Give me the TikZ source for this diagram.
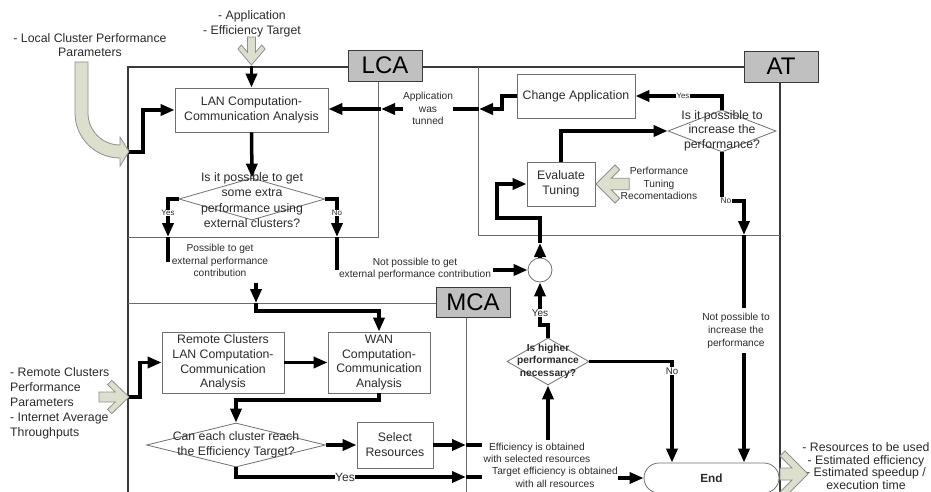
\documentclass[tikz,border=0pt]{standalone}
\usepackage{fontspec}
\setmainfont{Liberation Sans}
\usetikzlibrary{arrows.meta,shapes.geometric}
\definecolor{txt}{HTML}{2B2B2B}
\definecolor{blk}{HTML}{DCDFCB}
\definecolor{blkline}{HTML}{8F8F8F}
\definecolor{lanebox}{HTML}{C0C0C0}
\definecolor{framec}{HTML}{3A3A3A}
\definecolor{lanec}{HTML}{6A6A6A}
\definecolor{boxc}{HTML}{707070}
\tikzset{
  frameline/.style={draw=framec, line width=1.5pt},
  laneline/.style={draw=lanec, line width=1pt},
  lanelabel/.style={draw=framec, fill=lanebox, line width=0.9pt, minimum width=74pt, minimum height=31pt, inner sep=0pt, text=black, font=\fontsize{24}{24}\selectfont},
  proc/.style={draw=boxc, fill=white, line width=0.8pt, align=center, inner sep=0pt, font=\fontsize{12.3}{15}\selectfont},
  decis/.style={diamond, draw=boxc, line width=0.8pt, inner sep=0pt},
  dectext/.style={align=center, inner sep=0pt, font=\fontsize{12.3}{15}\selectfont},
  conn/.style={line width=3.5pt, draw=black, -{Triangle[length=14pt,width=11pt]}},
  connplain/.style={line width=3.5pt, draw=black},
  yn/.style={fill=white, inner sep=0.6pt, font=\fontsize{8}{9}\selectfont},
  lbl/.style={align=center, inner sep=0pt, font=\fontsize{10.2}{12.5}\selectfont},
  blockarrow/.style={fill=blk, draw=blkline, line width=0.8pt},
  chev/.pic={\path[blockarrow] (0,0) -- (-20,-20) -- (-25,-15) -- (-16,-6) -- (-35,-6) -- (-35,6) -- (-16,6) -- (-25,15) -- (-20,20) -- cycle;}
}
\begin{document}
\begin{tikzpicture}[x=1pt,y=-1pt,text=txt]
\useasboundingbox (0,0) rectangle (931,492);
\fill[white] (0,0) rectangle (931,492);

% frame and lanes
\draw[frameline] (128,495) -- (128,67) -- (744,67);
\draw[frameline] (780,82) -- (780,495);
\draw[laneline] (378,81) -- (378,237) -- (128,237);
\draw[laneline] (478,67) -- (478,235) -- (780,235);
\draw[laneline] (128,303) -- (436,303);
\draw[laneline] (466,317) -- (466,495);

\node[lanelabel] (lca) at (385,65.5) {LCA};
\node[lanelabel] (at) at (781,66.5) {AT};
\node[lanelabel, minimum height=30pt] (mca) at (473,302) {MCA};

% process boxes
\node[proc, minimum width=153pt, minimum height=44pt] (lan) at (251.5,110) {LAN Computation-\\Communication Analysis};
\node[proc, minimum width=118pt, minimum height=44pt] (chg) at (576,96) {Change Application};
\node[proc, minimum width=68pt, minimum height=44pt] (eval) at (561,184) {Evaluate\\Tuning};
\node[proc, minimum width=122pt, minimum height=61pt, font=\fontsize{12.3}{14.7}\selectfont] (remote) at (223,362.5) {Remote Clusters\\LAN Computation-\\Communication\\Analysis};
\node[proc, minimum width=102pt, minimum height=61pt, font=\fontsize{12.3}{14.7}\selectfont] (wan) at (379,362.5) {WAN\\Computation-\\Communication\\Analysis};
\node[proc, minimum width=76pt, minimum height=46pt] (sel) at (395,445) {Select\\Resources};
\node[draw=boxc, fill=white, line width=0.8pt, rounded corners=15pt, minimum width=135pt, minimum height=30pt, inner sep=0pt, font=\bfseries\fontsize{11.8}{14}\selectfont] (endn) at (711.5,478) {End};
\node[circle, draw=boxc, fill=white, line width=0.8pt, minimum size=24pt, inner sep=0pt] (cj) at (540,270) {};

% decisions
\node[decis, minimum width=146pt, minimum height=42pt] (d1) at (252,199) {};
\node[dectext, font=\fontsize{12.3}{15.3}\selectfont] (d1t) at (252,200) {Is it possible to get\\some extra\\performance using\\external clusters?};
\node[decis, minimum width=108pt, minimum height=42pt] (dat) at (722,131) {};
\node[dectext, font=\fontsize{12.3}{14.5}\selectfont] (datt) at (722,130.5) {Is it possible to\\increase the\\performance?};
\node[decis, minimum width=82pt, minimum height=47pt] (dhi) at (548,361.5) {};
\node[dectext, font=\bfseries\fontsize{10.2}{12.5}\selectfont] (dhit) at (548,361) {Is higher\\performance\\necessary?};
\node[decis, minimum width=179pt, minimum height=44pt] (dmca) at (236,445) {};
\node[dectext] (dmcat) at (236,444.5) {Can each cluster reach\\the Efficiency Target?};

% external texts
\node[align=center, inner sep=0pt, font=\fontsize{12.3}{15}\selectfont] (apptxt) at (252,23.5) {- Application\\- Efficiency Target};
\node[align=center, inner sep=0pt, font=\fontsize{12.3}{14.5}\selectfont] (loctxt) at (90,45) {- Local Cluster Performance\\Parameters};
\node[lbl] (ptxt) at (220,260.5) {Possible to get\\external performance\\contribution};
\node[lbl, font=\fontsize{10.2}{12}\selectfont] (nptxt) at (415,269) {Not possible to get\\external performance contribution};
\node[lbl] (atxt) at (428,108.5) {Application\\was\\tunned};
\node[lbl, font=\fontsize{10.2}{13}\selectfont] (nitxt) at (736,331) {Not possible to\\increase the\\performance};
\node[lbl] (prtxt) at (659,183.5) {Performance\\Tuning\\Recomentadions};
\node[lbl, font=\fontsize{10.2}{12}\selectfont] (etxt) at (537,453) {Efficiency is obtained\\with selected resources};
\node[lbl, font=\fontsize{10.2}{13}\selectfont] (ttxt) at (555,477.5) {Target efficiency is obtained\\with all resources};
\node[align=center, inner sep=0pt, font=\fontsize{12.3}{12.6}\selectfont] (outtxt) at (866,466) {- Resources to be used\\- Estimated efficiency\\- Estimated speedup /\\execution time};

% coordinates for split connectors
\coordinate (topin) at (251.5,66);
\coordinate (lin) at (128,152);
\coordinate (y1) at (168,237);
\coordinate (p1) at (256,283);
\coordinate (p2) at (256,303);
\coordinate (n1) at (337,237);
\coordinate (np1) at (493,270);
\coordinate (c1) at (540,243);
\coordinate (a1) at (479,109);
\coordinate (a2) at (403,109);
\coordinate (a3) at (381,109);
\coordinate (b1) at (744,235);
\coordinate (b2) at (744,353);
\coordinate (rin) at (128,397);
\coordinate (s1) at (466,445);
\coordinate (e1) at (548,440);
\coordinate (t1) at (466,477);
\coordinate (t2) at (618,478);
\coordinate (h1) at (672,361.5);

% connectors
\draw[conn] (topin) -- (lan.north);
\draw[conn] (lin) -- (143,152) |- (lan.west);
\draw[conn] (lan.south) -- (d1.north);
\draw[conn] (d1.west) -| (y1);
\draw[connplain] (y1) -- (168,262);
\draw[conn] (p1) -- (p2);
\draw[conn] (p2) -- (256,311) -| (wan.north);
\draw[conn] (d1.east) -| (n1);
\draw[connplain] (n1) -- (337,270);
\draw[conn] (np1) -- (cj.west);
\draw[conn] (cj.north) -- (c1);
\draw[conn] (c1) -- (540,218) -- (497,218) |- (eval.west);
\draw[conn] (eval.north) |- (dat.west);
\draw[conn] (dat.north) |- (chg.east);
\draw[conn] (chg.west) -- (502,96) |- (a1);
\draw[connplain] (a1) -- (453,109);
\draw[conn] (a2) -- (a3);
\draw[conn] (a3) -- (a3 -| lan.east);
\draw[conn] (dat.south) -- (722,201) -| (b1);
\draw[connplain] (b1) -- (744,308);
\draw[conn] (b2) -- (b2 |- endn.north);
\draw[conn] (rin) -- (140,397) |- (remote.west);
\draw[conn] (remote.east) -- (wan.west);
\draw[conn] (wan.south) -- (379,400) -| (dmca.north);
\draw[conn] (dmca.east) -- (sel.west);
\draw[conn] (sel.east) -- (s1);
\draw[connplain] (s1) -- (482,445);
\draw[conn] (e1) -- (dhi.south);
\draw[conn] (dmca.south) |- (t1);
\draw[connplain] (t1) -- (482,477);
\draw[conn] (t2) -- (endn.west);
\draw[conn] (dhi.north) -- (548,325) -- (540,325) -- (cj.south);
\draw[conn] (dhi.east) -- (h1) -- (h1 |- endn.north);

% yes / no labels
\node[yn] (y1l) at (168,213) {Yes};
\node[yn] (n1l) at (337,213) {No};
\node[yn, font=\fontsize{7.8}{9}\selectfont] (y2l) at (683,96) {Yes};
\node[yn, font=\fontsize{8.4}{9}\selectfont] (n2l) at (726,201) {No};
\node[yn, font=\fontsize{12}{13}\selectfont] (y3l) at (345,477) {Yes};
\node[yn, font=\fontsize{10}{11}\selectfont] (y4l) at (540,313) {Yes};
\node[yn, font=\fontsize{9.7}{11}\selectfont] (n3l) at (672,371) {No};

% block arrows
\pic[rotate=-90, xscale=0.8, yscale=0.68] at (251.5,65) {chev};
\path[blockarrow] (75,62) -- (75,113) .. controls (75,137.9) and (95.1,158) .. (120,158) -- (120,166) -- (129,151.5) -- (120,137) -- (120,145) .. controls (102.3,145) and (88,130.7) .. (88,113) -- (88,62) -- cycle;
\pic[rotate=180, xscale=0.95, yscale=0.95] at (596,184) {chev};
\pic[xscale=0.86, yscale=0.83] at (129,397) {chev};
\path[blockarrow] (808,474) -- (785,451) -- (780,456) -- (792,468) -- (780,468) -- (780,480) -- (792,480) -- (780,492) -- (785,497) -- cycle;

\node[align=left, anchor=west, inner sep=0pt, font=\fontsize{12.3}{15}\selectfont] (remtxt) at (10,403) {- Remote Clusters\\Performance\\Parameters\\- Internet Average\\Throughputs};
\end{tikzpicture}
\end{document}
